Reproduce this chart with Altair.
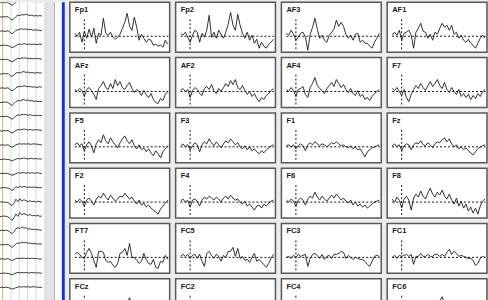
import altair as alt
import pandas as pd

# ---------------------------------------------------------------------------
# Averaged epochs: one value per sample, in µV (positive up), -100 .. 875 ms
# ---------------------------------------------------------------------------
times_ms = list(range(-100, 900, 25))

fp1 = [3, 0, 4, -6, 5, -2, 7, -1, 8, -7, 3, 1, 18, 3, 1, 4, -1, -3, -1, 2,
       8, 14, 23, 10, 6, 19, 9, -4, 2, -2, -6, -3, -4, -9, -8, -10, -9, -11, -4, -8]
fp2 = [3, 1, 4, -1, -6, 1, 6, 4, -6, 3, -1, 6, 21, -1, 4, -2, 6, 2, -2, 4,
       12, 24, 11, 6, 22, 11, 3, -2, 4, -4, 1, -7, -3, -12, -6, -10, -12, -8, -6, -3]
af3 = [3, 1, 6, 2, -4, -1, 3, 4, -1, -14, 2, 9, 18, 7, -2, 1, -4, -6, 1, 4,
       7, 16, 10, 14, 10, 2, -2, 1, -4, 2, 3, -6, -4, -7, -7, -10, -12, -6, -2, 3]
af1 = [1, 4, 1, 6, -4, 3, 4, 6, 1, -12, 4, 8, 13, 5, 4, -2, 2, -4, 4, 2,
       8, 13, 9, 11, 6, 11, 2, 4, -2, 1, -4, -6, -3, -7, -9, -12, -7, -2, 1, -2]
afz = [2, 0, 3, 1, -5, 2, 4, 1, -3, -8, 3, 6, 10, 4, 2, 8, 3, 12, 6, 10,
       4, 2, 6, 9, 3, -1, 2, 0, -4, 1, -3, -6, -2, -8, -11, -12, -7, -9, -3, 0]
af2 = [1, 3, 0, 2, -6, 1, 4, 2, -2, -4, 3, 5, 2, 7, 1, -2, 3, 0, 4, 8,
       5, 11, 7, 12, 4, 2, 6, 1, -3, 0, -5, -2, -7, -10, -6, -8, -4, -2, 1, 3]
af4 = [2, 0, 4, 1, -5, 2, 3, 5, -3, -6, 4, 8, 14, 6, 3, 1, -2, 3, 6, 9,
       5, 12, 8, 4, 7, 2, -1, 3, -2, -4, 1, -5, -3, -8, -6, -9, -5, -2, 0, 2]
f7 = [3, 1, 4, 0, -4, 2, -6, -10, -3, 2, 6, 3, 8, 4, 1, 6, 10, 5, 8, 12,
      6, 3, 9, 2, -1, 4, 0, -3, 2, -5, -2, -6, -3, -8, -4, -7, -2, -5, 0, 2]
f5 = [2, 4, 1, 3, -4, 2, 5, 1, -6, 3, 7, 4, 12, 6, 3, 9, 5, 2, -1, 4,
      8, 11, 6, 3, 7, 1, -2, 2, -3, -1, -5, -2, -6, -9, -4, -7, -11, -5, -2, 1]
f3 = [1, 3, 0, 2, -3, 1, 4, 2, -5, 2, 5, 3, 8, 4, 1, 5, 2, -1, 3, 6,
      4, 8, 5, 2, 4, 0, -2, 1, -3, 0, -4, -2, -5, -7, -4, -6, -3, -1, 1, 2]
f1 = [1, 2, 0, 2, -2, 1, 3, 1, -4, 2, 4, 2, 5, 3, 1, 3, 2, 0, 2, 4,
      3, 5, 3, 1, 2, 0, -1, 1, -2, 0, -3, -2, -6, -10, -5, -3, -1, 0, 1, 2]
fz = [1, 3, 0, 2, -4, 1, 3, 2, -3, 2, 4, 3, 6, 2, 1, 4, 2, -1, 3, 5,
      4, 7, 9, 5, 8, 3, 0, 2, -2, 0, -3, -1, -4, -6, -8, -5, -2, 0, 1, 2]
f2 = [2, 0, 3, 1, -4, 2, 4, 1, -3, 3, 6, 4, 9, 5, 2, 7, 4, 1, 3, 6,
      5, 9, 6, 3, 5, 1, -2, 2, -3, -1, -5, -3, -6, -8, -10, -12, -7, -4, -1, 2]
f4 = [1, 3, 0, 2, -5, 2, 3, 1, -4, 2, 5, 3, 6, 4, 2, 5, 3, 0, 4, 6,
      3, 7, 4, 2, 3, 0, -2, 1, -4, -2, -5, -8, -4, -3, -6, -2, -4, -1, 1, 2]
f6 = [2, 0, 3, 1, -4, 2, 4, 2, -3, 3, 6, 4, 10, 5, 2, 6, 3, 1, 4, 7,
      4, 8, 5, 2, 4, 1, -1, 2, -3, 0, -4, -2, -5, -3, -6, -4, -2, 0, 1, 2]
f8 = [3, 0, 5, 2, -6, 3, 6, 2, -8, 4, 8, 5, 11, 6, 3, 9, 14, 8, 5, 10,
      7, 12, 6, 3, 8, 2, -2, 4, -4, 1, -6, -2, -9, -5, -11, -6, -12, -4, 1, 3]
ft7 = [3, 5, 3, 0, -1, 5, 9, 4, -3, -10, 6, 6, 5, -3, -5, -4, -8, -10, -6, 4,
       5, 9, 2, 14, 0, 0, -3, -6, -4, 4, -2, -6, -7, -2, -10, -11, -4, -5, 2, -2]
fc5 = [1, 3, 1, 3, -1, 2, 3, -1, 3, -4, -9, 4, 6, 2, -1, 3, 1, -4, 2, 0,
       6, 6, 10, 1, 9, -1, 1, -3, -2, -5, 0, 4, -4, -2, -5, -7, -10, -6, -1, 3]
fc3 = [0, 1, -1, 2, 0, 3, 1, 2, 3, -9, -1, 3, 4, 2, -1, 3, -2, 1, 2, -1,
       3, 3, 4, 6, 5, -1, 2, 0, -2, 0, -1, -2, -2, -4, -7, -9, -4, 1, 2, 1]
fc1 = [0, 2, -1, 2, 1, 2, 3, 1, 3, -7, 1, 1, 4, 1, 1, 3, 1, 1, 3, 3,
       1, 3, 1, 5, 8, 3, 6, 4, 1, 2, 1, 0, -1, -1, -3, -8, -6, -1, 1, 0]
fcz = [1, 2, 0, 3, -4, 1, 3, 2, -3, 2, 4, 3, 7, 4, 2, 5, 3, 1, 4, 6,
       5, 8, 10, 15, 7, 3, 1, 2, -2, 0, -4, -2, -5, -7, -4, -6, -3, -1, 1, 2]
fc2 = [1, 3, 0, 2, -3, 1, 4, 2, -4, 2, 5, 3, 6, 3, 1, 4, 2, 0, 3, 5,
       4, 7, 9, 6, 4, 2, -1, 1, -3, 0, -4, -2, -6, -5, -3, -5, -2, 0, 1, 2]
fc4 = [2, 0, 3, 1, -4, 2, 3, 1, -3, 2, 4, 2, 5, 3, 1, 4, 2, 0, 3, 6,
       5, 8, 6, 4, 3, 1, -1, 2, -2, 0, -3, -1, -4, -6, -3, -5, -2, 0, 1, 1]
fc6 = [1, 2, 0, 2, -3, 1, 3, 2, -2, 2, 4, 3, 5, 3, 2, 4, 3, 6, 8, 10,
       12, 16, 9, 5, 3, 1, -1, 2, -2, 0, -3, -2, -5, -4, -6, -3, -1, 0, 1, 2]

grid_rows = [
    [("Fp1", fp1), ("Fp2", fp2), ("AF3", af3), ("AF1", af1)],
    [("AFz", afz), ("AF2", af2), ("AF4", af4), ("F7", f7)],
    [("F5", f5), ("F3", f3), ("F1", f1), ("Fz", fz)],
    [("F2", f2), ("F4", f4), ("F6", f6), ("F8", f8)],
    [("FT7", ft7), ("FC5", fc5), ("FC3", fc3), ("FC1", fc1)],
    [("FCz", fcz), ("FC2", fc2), ("FC4", fc4), ("FC6", fc6)],
]

# Continuous recording overview (one row per channel, sampled every 0.2 s)
strip_t = [round(i * 0.2, 1) for i in range(22)]
strip_traces = [
    [0, 0.5, 0, 0.5, 0, -1, -2.5, -1, 1, 1.5, 1, 2, 2.5, 2, 1.5, 2, 1, 1.5, 1, 1.5, 1, 1],
    [0, 0, 0.5, 0, 0.5, -1.5, -3, -1.5, 0.5, 2, 1.5, 2.5, 2, 3, 2, 1.5, 2, 1, 1.5, 1, 1.5, 1],
    [0, 0.5, 0, 0, 0.5, -1, -2.5, -1, 1, 1.5, 2, 2.5, 2, 2.5, 1.5, 2, 1.5, 1, 1.5, 1, 1, 0.5],
    [0, 0, 0.5, 0, 0, -1, -2, -1.5, 0, 1, 1.5, 1, 2, 1.5, 1, 1.5, 1, 1.5, 1, 1, 1.5, 1],
    [0, 0.5, 0, 0.5, 0, -1, -2, -1, 0.5, 1.5, 1, 2, 1.5, 2, 1, 1.5, 1, 1, 1.5, 1, 1, 0.5],
    [0, 0, 0.5, 0, 0.5, -1.5, -2.5, -1, 1, 1.5, 1, 2, 2.5, 1.5, 2, 1, 1.5, 1, 1, 1.5, 1, 1],
    [0, 0.5, 0, 0, 0.5, -1, -2.5, -1.5, 0.5, 1.5, 2, 1.5, 2.5, 2, 1.5, 2, 1, 1.5, 1, 1, 1.5, 1],
    [0, 0, 0.5, 0.5, 0, -1.5, -3, -1, 1, 2, 1.5, 2.5, 3, 2, 2.5, 1.5, 2, 1, 1.5, 1, 1, 1],
    [0, 0.5, 0, 0.5, 0, -1, -2.5, -1, 1, 2, 1.5, 2, 2.5, 2, 1.5, 2, 1.5, 1, 1.5, 1, 1.5, 1],
    [0, 0, 0.5, 0, 0.5, -1, -2, -1, 0.5, 1.5, 1, 1.5, 2, 1.5, 1, 1.5, 1, 1, 1.5, 1, 1, 0.5],
    [0, 0.5, 0, 0, 0.5, -1, -2, -1, 0.5, 1, 1.5, 1, 1.5, 1, 1.5, 1, 1, 1.5, 1, 1, 0.5, 0.5],
    [0, 0, 0.5, 0, 0, -0.5, -1.5, -0.5, 0.5, 1, 0.5, 1, 1.5, 1, 0.5, 1, 1, 0.5, 1, 0.5, 0.5, 0.5],
    [0, 0.5, 0, 0.5, 0, -0.5, -1.5, -1, 0, 1, 0.5, 1, 1, 0.5, 1, 0.5, 1, 0.5, 0.5, 1, 0.5, 0],
    [0, 0, 0.5, 0, 0, -1, -2.5, -1, 1.5, 0, 2, 0.5, 1.5, 1, 0.5, 1, 0.5, 1, 0.5, 0.5, 0, 0.5],
    [0, 0.5, 0, 0, -0.5, -2, -3.5, -1, 3, 0.5, 3.5, 1, 2.5, 1.5, 0.5, 1.5, 0.5, 1, 0, 1, 0.5, 0],
    [0, 0, 0.5, 0, -0.5, -2, -4, -1.5, 2.5, 0, 4, 1.5, 3, 2, 1, 2, 0.5, 1, 0.5, 1, 0, 0.5],
    [0, 0.5, 0, 0.5, 0, -1.5, -3, -1, 2, 3, 2, 4, 2.5, 3, 1.5, 2, 1, 1.5, 1, 1, 0.5, 0.5],
    [0, 0, 0.5, 0, 0.5, -1, -2.5, -1, 1, 2, 1.5, 3, 2, 2.5, 1.5, 2, 1, 1.5, 1, 1, 1, 0.5],
    [0, 0.5, 0, 0, 0.5, -0.5, -1.5, -0.5, 0.5, 1, 0.5, 1, 1, 0.5, 1, 0.5, 1, 0.5, 0.5, 0.5, 0, 0.5],
    [0, 0, 0.5, 0, 0, -0.5, -1.5, -0.5, 0.5, 1, 0.5, 1, 0.5, 1, 0.5, 0.5, 1, 0.5, 0.5, 0.5, 0.5, 0],
    [0, 0.5, 0, 0.5, 0, -0.5, -1.5, -1, 0, 0.5, 1, 0.5, 1, 0.5, 1, 0.5, 0.5, 1, 0.5, 0.5, 0, 0.5],
]
strip_event_s = [0.27]
strip_second_marks_s = [1.1, 1.93, 2.76, 3.59]

# ---------------------------------------------------------------------------
# Styling / layout constants
# ---------------------------------------------------------------------------
PAGE_BG = "#ececec"
TRACE = "#1c1c1c"
PANEL_W = 100
PANEL_H = 50
LAST_ROW_H = 22
TOP_UV = 34            # µV at the top edge of every panel (1 px per µV)
X_DOMAIN = [-152, 896]
ROW_STRIDE = 14.27     # vertical distance between strip channels


def epoch_panel(name, values, height):
    xs = alt.Scale(domain=X_DOMAIN, nice=False, zero=False)
    ys = alt.Scale(domain=[TOP_UV - height, TOP_UV], nice=False, zero=False)
    dash = dict(color="#111111", strokeWidth=1, strokeDash=[2, 2], clip=True)

    zero_line = alt.Chart(pd.DataFrame({"t": [-100], "t2": [880], "v": [0]})).mark_rule(**dash).encode(
        x=alt.X("t:Q", scale=xs, axis=None), x2="t2:Q",
        y=alt.Y("v:Q", scale=ys, axis=None),
    )
    onset = alt.Chart(pd.DataFrame({"t": [0], "lo": [-13], "hi": [18]})).mark_rule(**dash).encode(
        x=alt.X("t:Q", scale=xs, axis=None),
        y=alt.Y("lo:Q", scale=ys, axis=None), y2="hi:Q",
    )
    wave = alt.Chart(pd.DataFrame({"t": times_ms, "v": values})).mark_line(
        color=TRACE, strokeWidth=0.9, clip=True
    ).encode(
        x=alt.X("t:Q", scale=xs, axis=None),
        y=alt.Y("v:Q", scale=ys, axis=None),
    )
    label = alt.Chart(pd.DataFrame({"name": [name]})).mark_text(
        align="left", baseline="alphabetic", font="Liberation Sans",
        fontSize=7.5, fontWeight="bold", color="#1a1a1a",
    ).encode(text="name:N", x=alt.value(5), y=alt.value(10))

    return alt.layer(zero_line, onset, wave, label).properties(
        width=PANEL_W, height=height,
        view=alt.ViewBackground(fill="white", stroke="#585858", strokeWidth=1.5),
    )


def filler(width, color, height=299):
    return alt.Chart(pd.DataFrame({"k": [0]})).mark_rect(color=color).encode(
        x=alt.value(0), x2=alt.value("width"), y=alt.value(0), y2=alt.value("height")
    ).properties(width=width, height=height, view=alt.ViewBackground(stroke=None))


# ---- overview strip -------------------------------------------------------
strip_records = []
for k, trace in enumerate(strip_traces):
    for t, v in zip(strip_t, trace):
        strip_records.append({"ch": k, "t": t, "pos": v - k * ROW_STRIDE})
strip_df = pd.DataFrame(strip_records)

sx = alt.Scale(domain=[0, 4.4], nice=False, zero=False)
sy = alt.Scale(domain=[-298.5, 0.5], nice=False, zero=False)

sec_marks = alt.Chart(pd.DataFrame({"t": strip_second_marks_s})).mark_rule(
    color="#c4e6c4", strokeWidth=1
).encode(x=alt.X("t:Q", scale=sx, axis=None))
event_mark = alt.Chart(pd.DataFrame({"t": strip_event_s})).mark_rule(
    color="#cdb46a", strokeWidth=1
).encode(x=alt.X("t:Q", scale=sx, axis=None))
strip_lines = alt.Chart(strip_df).mark_line(
    color="#2a2a2a", strokeWidth=0.9, clip=True
).encode(
    x=alt.X("t:Q", scale=sx, axis=None),
    y=alt.Y("pos:Q", scale=sy, axis=None),
    detail="ch:N",
)
strip = alt.layer(sec_marks, event_mark, strip_lines).properties(
    width=44, height=299, view=alt.ViewBackground(fill="white", stroke=None)
)

# ---- epoch grid -----------------------------------------------------------
panels = []
for r, row in enumerate(grid_rows):
    h = LAST_ROW_H if r == len(grid_rows) - 1 else PANEL_H
    for name, vals in row:
        panels.append(epoch_panel(name, vals, h))

grid = alt.concat(
    *panels, columns=4, spacing=alt.RowColnumber(row=5.4, column=6), bounds="flush"
)

chart = alt.hconcat(
    strip,
    filler(10, "#e3e3e3"),
    filler(1, "#a8a8a8"),
    filler(7, "#fbfbfb"),
    filler(3, "#1630e0"),
    filler(5, PAGE_BG),
    grid,
    spacing=0,
    bounds="flush",
).properties(
    padding={"top": 1, "left": 0, "right": 0, "bottom": 0},
).configure(background=PAGE_BG)

chart.save("out.html", embed_options={"renderer": "svg", "actions": False})
